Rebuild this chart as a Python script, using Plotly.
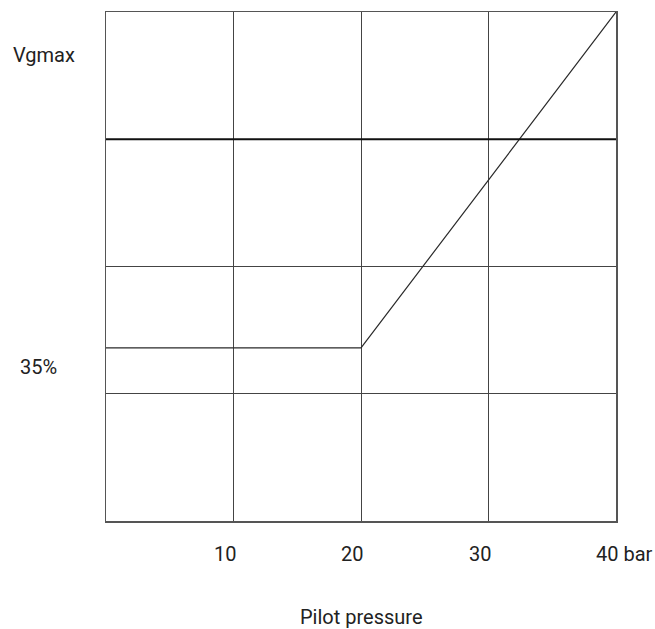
import plotly.graph_objects as go

# Data
pressure_bar = [0, 20, 40]          # pilot pressure (bar)
displacement_pct = [34, 34, 100]    # displacement, % of Vgmax
x_ticks = [10, 20, 30, 40]
x_tick_labels = ["10", "20", "30", "40 bar"]
y_labels = ["Vgmax", "35%"]
y_label_values = [100, 35]
emphasis_level = 75
x_title = "Pilot pressure"

FONT = "Roboto, Arial, sans-serif"
FS = 20
TXT = "#222222"

fig = go.Figure()
fig.add_trace(go.Scatter(
    x=pressure_bar, y=displacement_pct, mode="lines",
    line=dict(color="#2a2a2a", width=1.2), hoverinfo="skip", showlegend=False,
))

fig.add_shape(type="line", xref="paper", x0=0, x1=1, yref="y",
              y0=emphasis_level, y1=emphasis_level,
              line=dict(color="#111111", width=2), layer="above")

ann = []
for v, t in zip(x_ticks, x_tick_labels):
    ann.append(dict(x=v, xref="x", y=0, yref="paper", text=t, showarrow=False,
                    xanchor="left", yanchor="middle", xshift=-22, yshift=-33,
                    font=dict(family=FONT, size=FS, color=TXT)))
# y labels (offset slightly below their levels as in the source)
ann.append(dict(x=0, xref="paper", y=y_label_values[0], yref="y", text=y_labels[0],
                showarrow=False, xanchor="center", yanchor="middle",
                xshift=-62, yshift=-43, font=dict(family=FONT, size=FS, color=TXT)))
ann.append(dict(x=0, xref="paper", y=y_label_values[1], yref="y", text=y_labels[1],
                showarrow=False, xanchor="center", yanchor="middle",
                xshift=-68, yshift=-24, font=dict(family=FONT, size=FS, color=TXT)))
ann.append(dict(x=0.5, xref="paper", y=0, yref="paper", text=x_title, showarrow=False,
                xanchor="center", yanchor="middle", yshift=-96,
                font=dict(family=FONT, size=FS, color=TXT)))

fig.update_layout(
    width=655, height=629,
    margin=dict(l=106, r=39, t=10, b=108),
    paper_bgcolor="white", plot_bgcolor="white",
    annotations=ann,
    xaxis=dict(range=[0, 40], dtick=10, showticklabels=False, ticks="",
               showgrid=True, gridcolor="#444444", gridwidth=1, zeroline=False,
               showline=True, mirror=True, linecolor="#555555", linewidth=1.5,
               fixedrange=True),
    yaxis=dict(range=[0, 100], dtick=25, showticklabels=False, ticks="",
               showgrid=True, gridcolor="#444444", gridwidth=1, zeroline=False,
               showline=True, mirror=True, linecolor="#555555", linewidth=1.5,
               fixedrange=True),
)

fig.write_html("out.html",
               config={"displayModeBar": False, "staticPlot": True},
               post_script="document.body.style.margin='0';document.body.style.overflow='hidden';")
